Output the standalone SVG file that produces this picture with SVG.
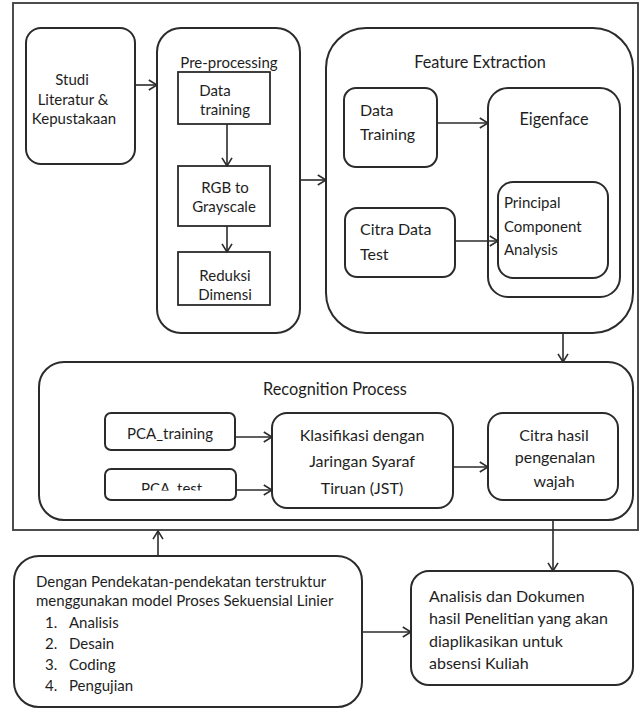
<svg xmlns="http://www.w3.org/2000/svg" width="642" height="708" viewBox="0 0 642 708">
  <style>
    .box { fill: #ffffff; stroke: #2b2b2b; stroke-width: 2; }
    .frame { fill: none; stroke: #3a3a3a; stroke-width: 1.8; }
    .sq { fill: #ffffff; stroke: #2b2b2b; stroke-width: 1.8; }
    .link { fill: none; stroke: #2b2b2b; stroke-width: 1.6; marker-end: url(#arrow); }
    text { font-family: "Lato", "Carlito", "Liberation Sans", sans-serif; fill: #1e1e1e; font-size: 15px; }
    .c { text-anchor: middle; }
    .fe { font-size: 16px; }
    .head { font-size: 16.3px; }
  </style>
  <defs>
    <marker id="arrow" viewBox="0 0 10 12" refX="9.2" refY="6" markerWidth="10" markerHeight="12" markerUnits="userSpaceOnUse" orient="auto">
      <path d="M1,1 L9.2,6 L1,11" fill="none" stroke="#2b2b2b" stroke-width="1.6"/>
    </marker>
    <clipPath id="pcaTestClip">
      <rect x="106" y="470" width="129" height="20.5"/>
    </clipPath>
  </defs>

  <!-- outer frame around the research stages -->
  <rect class="frame" x="13" y="3" width="625" height="527"/>

  <g id="studi">
    <rect class="box" x="26" y="28" width="109" height="136" rx="15"/>
    <text class="c" x="72" y="85">Studi</text>
    <text class="c" x="73" y="105">Literatur &amp;</text>
    <text class="c" x="74" y="124">Kepustakaan</text>
  </g>

  <g id="preprocessing">
    <rect class="box" x="157" y="28" width="143" height="305" rx="24"/>
    <text class="c" x="229" y="68">Pre-processing</text>
  </g>
  <g id="data-training">
    <rect class="sq" x="178" y="72" width="92" height="52"/>
    <text class="c" x="215" y="96">Data</text>
    <text class="c" x="225" y="115">training</text>
  </g>
  <g id="rgb-grayscale">
    <rect class="sq" x="178" y="166" width="92" height="60"/>
    <text class="c" x="225" y="193">RGB to</text>
    <text class="c" x="224" y="212">Grayscale</text>
  </g>
  <g id="reduksi-dimensi">
    <rect class="sq" x="178" y="252" width="92" height="53"/>
    <text class="c" x="225" y="281">Reduksi</text>
    <text class="c" x="225" y="300">Dimensi</text>
  </g>

  <g id="feature-extraction">
    <rect class="box" x="326" y="28" width="307" height="305" rx="40"/>
    <text class="c head" x="480" y="68">Feature Extraction</text>
  </g>
  <g id="fe-data-training">
    <rect class="box" x="344" y="88" width="93" height="79" rx="12"/>
    <text class="fe" x="360" y="116">Data</text>
    <text class="fe" x="360" y="140">Training</text>
  </g>
  <g id="eigenface">
    <rect class="box" x="488" y="88" width="132" height="209" rx="20"/>
    <text class="c head" x="554" y="125">Eigenface</text>
  </g>
  <g id="pca">
    <rect class="box" x="498" y="182" width="110" height="96" rx="15"/>
    <text x="504" y="208">Principal</text>
    <text x="504" y="232">Component</text>
    <text x="504" y="255">Analysis</text>
  </g>
  <g id="citra-data-test">
    <rect class="box" x="345" y="208" width="110" height="69" rx="12"/>
    <text class="fe" x="360" y="235">Citra Data</text>
    <text class="fe" x="360" y="260">Test</text>
  </g>

  <g id="recognition-process">
    <rect class="box" x="39" y="362" width="594" height="158" rx="25"/>
    <text class="c head" x="335" y="395">Recognition Process</text>
  </g>
  <g id="pca-training">
    <rect class="box" x="105" y="413" width="130" height="37" rx="6"/>
    <text class="c" x="170" y="439">PCA_training</text>
  </g>
  <g id="pca-test">
    <rect class="box" x="105" y="469" width="131" height="31" rx="6"/>
    <text x="141" y="494" clip-path="url(#pcaTestClip)">PCA_test</text>
  </g>
  <g id="klasifikasi-jst">
    <rect class="box" x="272" y="413" width="181" height="95" rx="15"/>
    <text class="c fe" x="362" y="441">Klasifikasi dengan</text>
    <text class="c fe" x="362" y="467">Jaringan Syaraf</text>
    <text class="c fe" x="362" y="494">Tiruan (JST)</text>
  </g>
  <g id="citra-hasil">
    <rect class="box" x="488" y="413" width="130" height="87" rx="15"/>
    <text class="c fe" x="554" y="441">Citra hasil</text>
    <text class="c fe" x="555" y="463">pengenalan</text>
    <text class="c fe" x="554" y="487">wajah</text>
  </g>

  <g id="metode-sekuensial">
    <rect class="box" x="14" y="556" width="348" height="151" rx="25"/>
    <text x="36" y="587">Dengan Pendekatan-pendekatan terstruktur</text>
    <text x="36" y="606">menggunakan model Proses Sekuensial Linier</text>
    <text x="45" y="628">1.</text><text x="69" y="628">Analisis</text>
    <text x="45" y="649">2.</text><text x="69" y="649">Desain</text>
    <text x="45" y="670">3.</text><text x="69" y="670">Coding</text>
    <text x="45" y="691">4.</text><text x="69" y="691">Pengujian</text>
  </g>

  <g id="analisis-dokumen">
    <rect class="box" x="411" y="571" width="222" height="114" rx="18"/>
    <text class="fe" x="429" y="602">Analisis dan Dokumen</text>
    <text class="fe" x="429" y="624">hasil Penelitian yang akan</text>
    <text class="fe" x="429" y="647">diaplikasikan untuk</text>
    <text class="fe" x="429" y="669">absensi Kuliah</text>
  </g>

  <g id="connectors">
    <line class="link" x1="135" y1="85" x2="157" y2="85"/>
    <line class="link" x1="227" y1="124" x2="227" y2="166"/>
    <line class="link" x1="227" y1="226" x2="227" y2="252"/>
    <line class="link" x1="300" y1="180" x2="326" y2="180"/>
    <line class="link" x1="437" y1="123" x2="488" y2="123"/>
    <line class="link" x1="455" y1="241" x2="498" y2="241"/>
    <line class="link" x1="563" y1="333" x2="563" y2="362"/>
    <line class="link" x1="235" y1="437" x2="272" y2="437"/>
    <line class="link" x1="236" y1="490" x2="272" y2="490"/>
    <line class="link" x1="453" y1="467" x2="488" y2="467"/>
    <line class="link" x1="158" y1="556" x2="158" y2="531"/>
    <line class="link" x1="553" y1="520" x2="553" y2="571"/>
    <line class="link" x1="362" y1="632" x2="411" y2="632"/>
  </g>
</svg>
